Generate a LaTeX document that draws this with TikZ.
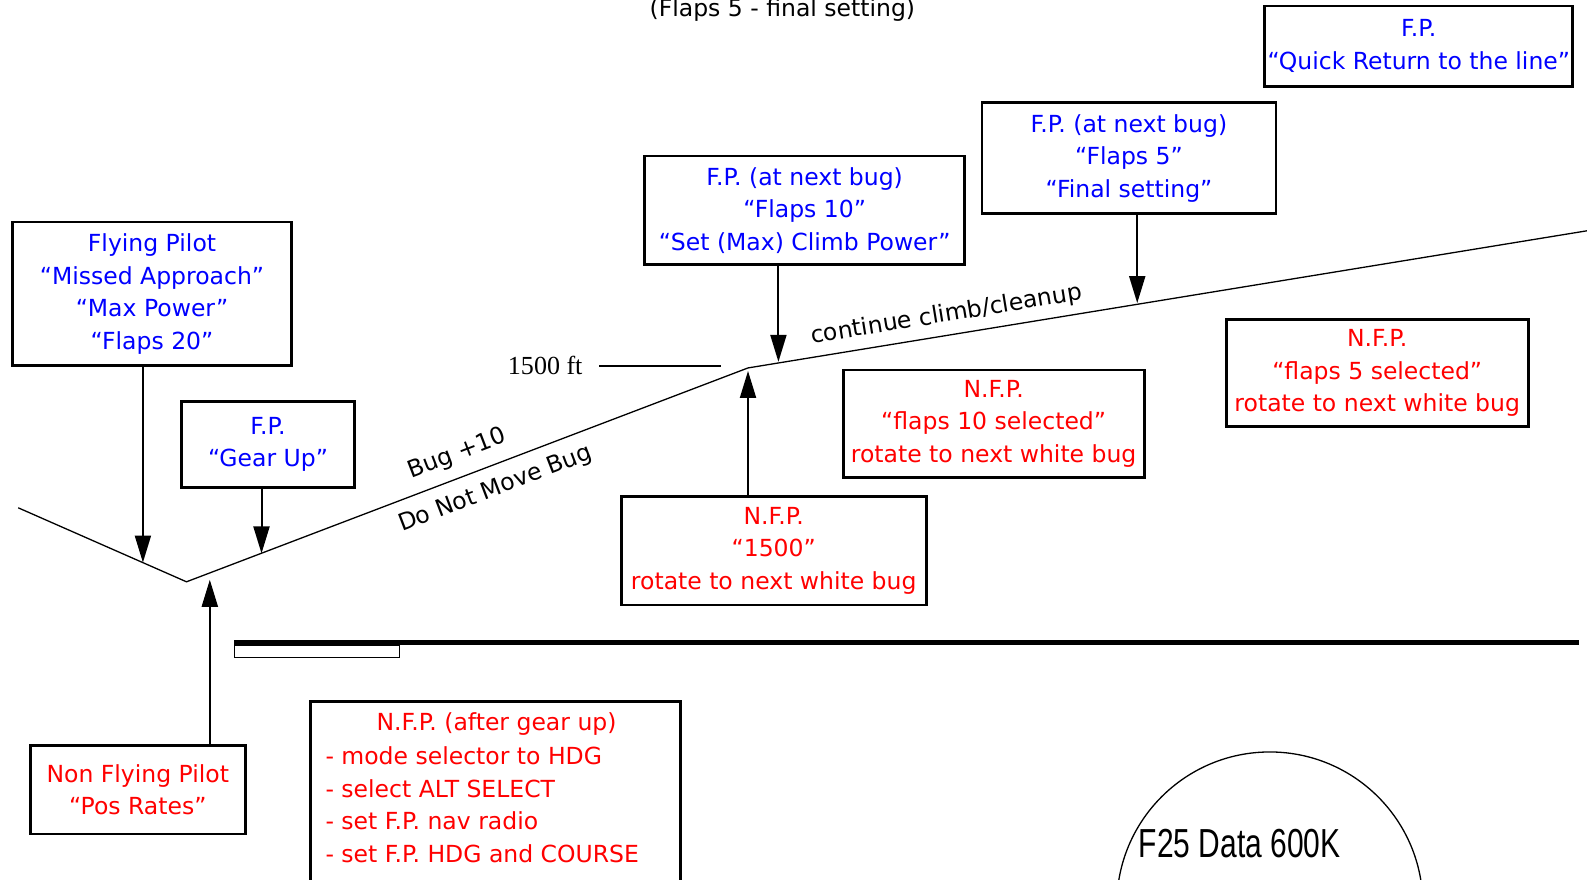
\documentclass[tikz,border=0pt]{standalone}
\usepackage{fontspec}
\setmainfont{DejaVu Sans}
\newfontfamily\altfont{Liberation Serif}
\newfontfamily\datafont{Liberation Sans}
\usetikzlibrary{arrows.meta}

\tikzset{
  fpbox/.style={draw, line width=2.8pt, text=blue, align=center, inner sep=0pt},
  nfpbox/.style={fpbox, text=red},
  call/.style={line width=2pt, -{Triangle[length=27pt,width=16pt]}},
  pathline/.style={line width=1.3pt},
}

\begin{document}
\begin{tikzpicture}[x=1pt,y=-1pt,scale=1.0134,every node/.append style={transform shape},
  font=\fontsize{23.2}{32}\selectfont]
\useasboundingbox (0,0) rectangle (1566,867.4);

% flight path
\coordinate (start) at (18,501);
\coordinate (low) at (184,574);
\coordinate (lvl) at (738,363);
\coordinate (far) at (1570,227);
\draw[pathline] (start) -- (low) -- (lvl) -- (far);

% calls of the flying pilot
\node[fpbox, minimum width=276, minimum height=142] (fpmiss) at (150,290)
  {Flying Pilot\\“Missed Approach”\\“Max Power”\\“Flaps 20”};
\node[fpbox, minimum width=171, minimum height=85] (fpgear) at (264.5,438.5)
  {F.P.\\“Gear Up”};
\node[fpbox, minimum width=316, minimum height=107] (fpten) at (794,207.5)
  {F.P. (at next bug)\\“Flaps 10”\\“Set (Max) Climb Power”};
\node[fpbox, minimum width=290, minimum height=110] (fpfive) at (1114,156)
  {F.P. (at next bug)\\“Flaps 5”\\“Final setting”};
\node[fpbox, minimum width=304, minimum height=79] (fpquick) at (1400,45.5)
  {F.P.\\“Quick Return to the line”};

% calls of the non flying pilot
\node[nfpbox, minimum width=212, minimum height=87] (nfpbase) at (136,779.5)
  {Non Flying Pilot\\“Pos Rates”};
\node[nfpbox, minimum width=301, minimum height=107] (nfpalt) at (763.5,543.5)
  {N.F.P.\\“1500”\\rotate to next white bug};
\node[nfpbox, minimum width=297, minimum height=106] (nfpten) at (980.5,418)
  {N.F.P.\\“flaps 10 selected”\\rotate to next white bug};
\node[nfpbox, minimum width=298, minimum height=106] (nfpfive) at (1359,368)
  {N.F.P.\\“flaps 5 selected”\\rotate to next white bug};
\node[nfpbox, minimum width=365, minimum height=220, anchor=north west] (nfpgear) at (305,691) {};
\node[text=red] (geartitle) at (490,714) {N.F.P. (after gear up)};
\node[text=red, align=left, anchor=north west, inner sep=0pt] (gearlist) at (321,737)
  {- mode selector to HDG\\- select ALT SELECT\\- set F.P. nav radio\\- set F.P. HDG and COURSE};

% arrows to the path
\coordinate (tmiss) at (141,555);
\coordinate (tgear) at (258,546);
\coordinate (tbase) at (207,572);
\coordinate (talt) at (738,366);
\coordinate (tten) at (768,357);
\coordinate (tfive) at (1122,299);
\draw[call] (fpmiss.south -| tmiss) -- (tmiss);
\draw[call] (fpgear.south -| tgear) -- (tgear);
\draw[call] (nfpbase.north -| tbase) -- (tbase);
\draw[call] (nfpalt.north -| talt) -- (talt);
\draw[call] (fpten.south -| tten) -- (tten);
\draw[call] (fpfive.south -| tfive) -- (tfive);

% labels along the path
\node[anchor=base] (title) at (772,16) {(Flaps 5 - final setting)};
\node (alt) at (538,361) {\altfont\fontsize{25.7}{30}\selectfont 1500 ft};
\coordinate (altL) at (591,361);
\coordinate (altR) at (711,361);
\draw[line width=2pt] (altL) -- (altR);
\node[rotate=21] (bug) at (451,448) {Bug +10};
\node[rotate=21] (nomove) at (489,483) {Do Not Move Bug};
\node[rotate=9.3] (climb) at (934,311) {continue climb/cleanup};

% runway
\draw[line width=5pt] (231,634) -- (1558,634);
\draw[line width=1.2pt] (231,637) rectangle (394,649);

% data circle
\draw[pathline] (1253,893) circle (151);
\node[anchor=west, xscale=0.74] (data) at (1121,832) {\datafont\fontsize{40}{44}\selectfont F25 Data 600K};
\end{tikzpicture}
\end{document}
